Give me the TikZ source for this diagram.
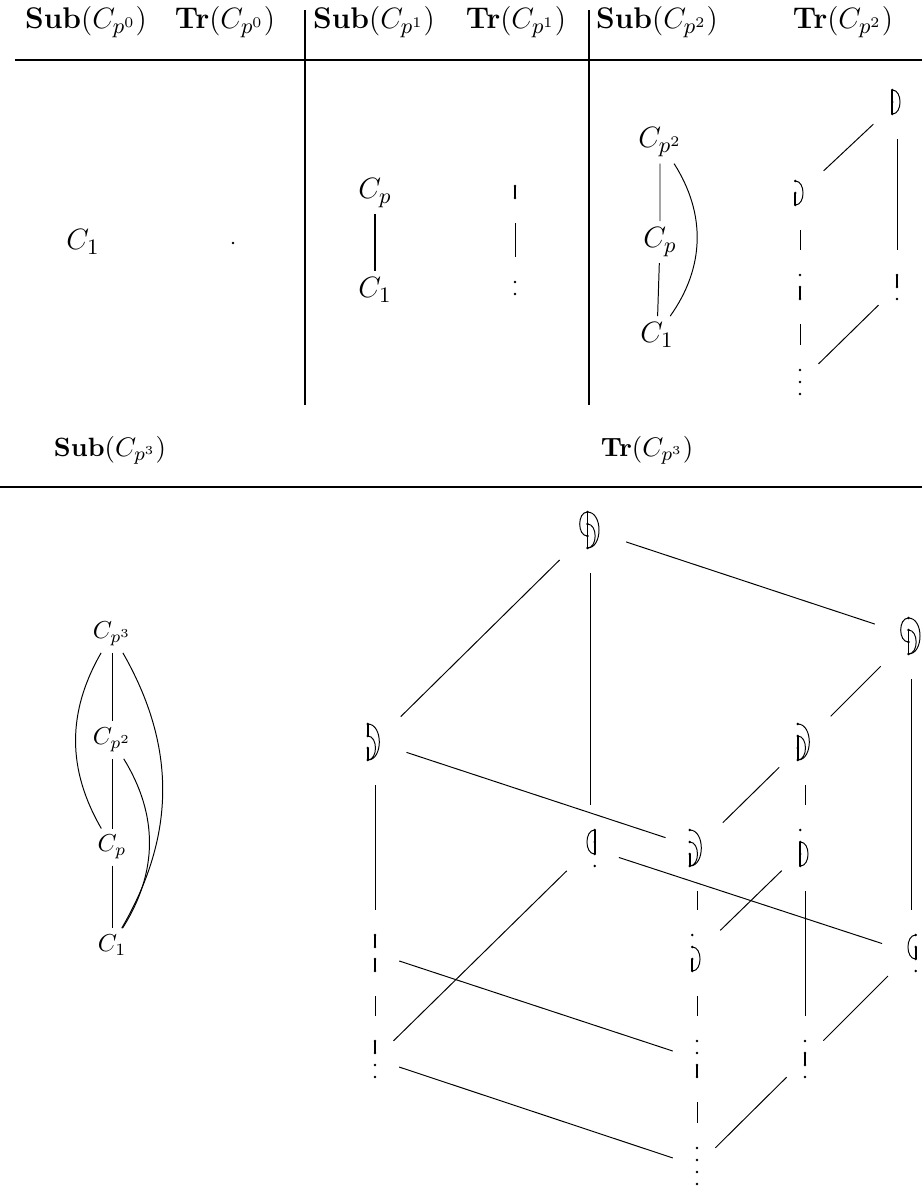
\documentclass[tikz,border=0pt]{standalone}
\usetikzlibrary{positioning}

\tikzset{
  ts/.style={inner sep=0pt, outer sep=0pt},
  conn/.style={shorten >=9.8pt, shorten <=9.8pt},
  grp/.style={inner sep=2.5pt},
  rule/.style={line width=0.8pt},
  big/.style={font=\fontsize{12.2}{14}\selectfont},
  head/.style={font=\fontsize{10.8}{13}\selectfont},
}

% dots of the subgroup chain, level 0 at the bottom
\newcommand{\tsdots}[1]{\foreach \k in {0,...,#1}{\fill (0,-12*\k) circle (1.4);}}
% one transfer a -> b: straight if adjacent, arc otherwise
\newcommand{\tsedge}[2]{%
  \pgfmathtruncatemacro{\tsd}{#2-#1}%
  \ifnum\tsd=1 \draw[line width=0.7pt] (0,-12*#1) -- (0,-12*#2);%
  \else\ifnum#1=0 \draw (0,-12*#1) to[out=0,in=0,looseness=1.1] (0,-12*#2);%
  \else \draw (0,-12*#1) to[out=180,in=180,looseness=1.1] (0,-12*#2);%
  \fi\fi}
\newcommand{\tsys}[2]{\tikz[x=0.4082pt,y=-0.4082pt]{\tsdots{#1}\foreach \a/\b in {#2}{\tsedge{\a}{\b}}}}
\newcommand{\tsnone}[1]{\tikz[x=0.4082pt,y=-0.4082pt]{\tsdots{#1}}}

\begin{document}
\begin{tikzpicture}[x=0.4082pt,y=-0.4082pt]
    \useasboundingbox (0,0) rectangle (922,1187);

    % table heads, first row
    \node[big] (h0s) at (86,22) {\textbf{Sub}$(C_{p^0})$};
    \node[big] (h0t) at (225,22) {\textbf{Tr}$(C_{p^0})$};
    \node[big] (h1s) at (374,22) {\textbf{Sub}$(C_{p^1})$};
    \node[big] (h1t) at (516,22) {\textbf{Tr}$(C_{p^1})$};
    \node[big] (h2s) at (657,22) {\textbf{Sub}$(C_{p^2})$};
    \node[big] (h2t) at (843,22) {\textbf{Tr}$(C_{p^2})$};
    \draw[rule] (15,60) -- (922,60);
    \draw[rule] (305,10) -- (305,405);
    \draw[rule] (589,10) -- (589,405);

    % C_{p^0}
    \node[grp,big] (a0) at (83,242) {$C_1$};
    \node[ts] (t00) at (233,243) {\tsnone{0}};

    % C_{p^1}
    \node[grp,big] (b1) at (375,193) {$C_p$};
    \node[grp,big] (b0) at (375,290) {$C_1$};
    \draw[semithick] (b1) -- (b0);
    \node[ts] (u1) at (515,192) {\tsys{1}{0/1}};
    \node[ts] (u0) at (515,288) {\tsnone{1}};
    \draw[conn] (u1) -- (u0);

    % C_{p^2}
    \node[grp,big] (c2) at (660,142) {$C_{p^2}$};
    \node[grp,big] (c1) at (660,242) {$C_p$};
    \node[grp,big] (c0) at (657,335) {$C_1$};
    \draw (c2) -- (c1) -- (c0);
    \draw (c2) to[bend left=34] (c0);

    \node[ts] (v4) at (897,102) {\tsys{2}{0/1,1/2,0/2}};
    \node[ts] (v3) at (800,193) {\tsys{2}{0/1,0/2}};
    \node[ts] (v2) at (800,287) {\tsys{2}{0/1}};
    \node[ts] (v1) at (897,287) {\tsys{2}{1/2}};
    \node[ts] (v0) at (800,382) {\tsnone{2}};
    \draw[conn] (v4) -- (v3);
    \draw[conn] (v4) -- (v1);
    \draw[conn] (v3) -- (v2);
    \draw[conn] (v2) -- (v0);
    \draw[conn] (v1) -- (v0);

    % second row
    \node[head] (h3s) at (110,450) {\textbf{Sub}$(C_{p^3})$};
    \node[head] (h3t) at (647,450) {\textbf{Tr}$(C_{p^3})$};
    \draw[rule] (0,487) -- (922,487);

    \node[grp] (s3) at (112,634) {$C_{p^3}$};
    \node[grp] (s2) at (112,740) {$C_{p^2}$};
    \node[grp] (s1) at (112,847) {$C_p$};
    \node[grp] (s0) at (112,945) {$C_1$};
    \draw (s3) -- (s2) -- (s1) -- (s0);
    \draw (s3) to[bend right=30] (s1);
    \draw (s3) to[bend left=30] (s0);
    \draw (s2) to[bend left=32] (s0);

    % transfer systems of C_{p^3}
    \node[ts] (tA) at (590,530) {\tsys{3}{0/1,1/2,2/3,0/2,1/3,0/3}};
    \node[ts] (tB) at (911,636) {\tsys{3}{0/1,1/2,0/2,1/3,0/3}};
    \node[ts] (tD) at (375,742) {\tsys{3}{0/1,2/3,0/2,0/3}};
    \node[ts] (tC) at (805,742) {\tsys{3}{0/1,1/2,0/2,0/3}};
    \node[ts] (tJ) at (590,848) {\tsys{3}{1/2,2/3,1/3}};
    \node[ts] (tE) at (697,848) {\tsys{3}{0/1,0/2,0/3}};
    \node[ts] (tF) at (805,848) {\tsys{3}{0/1,1/2,0/2}};
    \node[ts] (tK) at (911,953) {\tsys{3}{1/2,1/3}};
    \node[ts] (tH) at (375,953) {\tsys{3}{0/1,2/3}};
    \node[ts] (tG) at (697,953) {\tsys{3}{0/1,0/2}};
    \node[ts] (tL) at (805,1059) {\tsys{3}{1/2}};
    \node[ts] (tM) at (375,1059) {\tsys{3}{2/3}};
    \node[ts] (tI) at (697,1059) {\tsys{3}{0/1}};
    \node[ts] (tN) at (697,1166) {\tsnone{3}};

    \draw[conn] (tA) -- (tD);
    \draw[conn] (tA) -- (tB);
    \draw[conn] (tA) -- (tJ);
    \draw[conn] (tB) -- (tC);
    \draw[conn] (tB) -- (tK);
    \draw[conn] (tD) -- (tH);
    \draw[conn] (tD) -- (tE);
    \draw[conn] (tC) -- (tF);
    \draw[conn] (tC) -- (tE);
    \draw[conn] (tJ) -- (tK);
    \draw[conn] (tJ) -- (tM);
    \draw[conn] (tE) -- (tG);
    \draw[conn] (tF) -- (tG);
    \draw[conn] (tF) -- (tL);
    \draw[conn] (tK) -- (tL);
    \draw[conn] (tH) -- (tI);
    \draw[conn] (tH) -- (tM);
    \draw[conn] (tG) -- (tI);
    \draw[conn] (tL) -- (tN);
    \draw[conn] (tM) -- (tN);
    \draw[conn] (tI) -- (tN);
\end{tikzpicture}
\end{document}
